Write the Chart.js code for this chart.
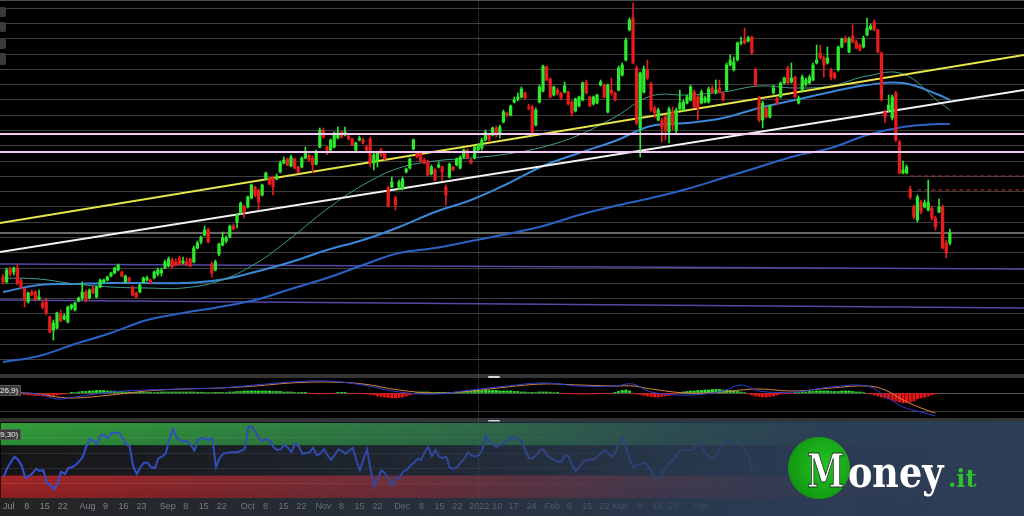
<!DOCTYPE html>
<html><head><meta charset="utf-8">
<script src="https://cdn.jsdelivr.net/npm/chart.js@4.4.1/dist/chart.umd.min.js"></script>
<style>
html,body{margin:0;padding:0;background:#000;width:1024px;height:516px;overflow:hidden;position:relative;font-family:"Liberation Sans",Arial,sans-serif}
canvas{position:absolute;left:0;display:block}
#main{top:0}
#macd{top:378px}
#osc{top:421px}
.abs{position:absolute}
.sep{position:absolute;left:0;width:1024px;background:#343434}
.handle{position:absolute;left:488px;width:12px;height:2px;background:#d6d6d6;border-radius:1px}
.btn{position:absolute;left:0;width:6px;background:#3a3a3a;border-radius:0 2px 2px 0}
.lbl{position:absolute;left:0;height:9px;background:#3a3a3a;border:1px solid #555;border-left:none;color:#eee;font-size:8px;line-height:9px;padding:0 2px 0 0;white-space:nowrap}
#overlay{position:absolute;left:0;top:421px;width:1024px;height:95px;pointer-events:none;
background:linear-gradient(90deg,rgba(44,61,86,0) 0%,rgba(44,61,86,0.22) 20%,rgba(44,61,86,0.5) 45%,rgba(44,61,86,0.82) 65%,rgba(44,61,86,0.97) 80%,rgba(44,61,86,1) 100%)}
#vline{position:absolute;left:478px;top:0;width:0;height:500px;border-left:1px dotted rgba(150,150,150,0.45)}
#circle{position:absolute;left:788px;top:437px;width:62px;height:62px;border-radius:50%;background:radial-gradient(circle at 60% 45%,#27c227 0%,#14a014 60%,#0e870e 100%)}
#logoM{position:absolute;left:807px;top:447px;font-family:"DejaVu Serif",serif;font-weight:bold;font-size:47px;line-height:47px;color:#fff;-webkit-text-stroke:1px #1f3320;transform:scaleX(0.72);transform-origin:left top}
#logoOney{position:absolute;left:848px;top:452px;font-family:"DejaVu Serif",serif;font-weight:bold;font-size:42px;line-height:42px;color:#fff;transform:scaleX(0.87);transform-origin:left top}
#logoIt{position:absolute;left:948px;top:467px;font-family:"DejaVu Serif",serif;font-weight:bold;font-size:24px;line-height:24px;color:#2fbf2f}
</style></head><body>
<canvas id="main" width="1024" height="375"></canvas>
<canvas id="macd" width="1024" height="40"></canvas>
<canvas id="osc" width="1024" height="95"></canvas>
<div class="abs" style="left:0;top:0;width:1024px;height:1px;background:#4a4a4a"></div>
<div class="btn" style="top:7px;height:10px"></div>
<div class="btn" style="top:22px;height:10px"></div>
<div class="btn" style="top:38px;height:11px"></div>
<div class="btn" style="top:53px;height:12px"></div>
<div class="sep" style="top:374px;height:4px"></div>
<div class="handle" style="top:376px"></div>
<div class="sep" style="top:418px;height:4px"></div>
<div class="handle" style="top:420px"></div>
<div id="vline"></div>
<div class="lbl" style="top:385px">26,9)</div>
<div class="lbl" style="top:429px">9,30)</div>
<div id="overlay"></div>
<div id="circle"></div>
<div id="logoM">M</div>
<div id="logoOney">oney</div>
<div id="logoIt">.it</div>
<script>
// ---------- DATA ----------
const opens=[98,93,106,103,107,95,86,73,83,83,76,72,73,58,45,47,61,56,53,67,65,74,77,83,77,87,78,88,93,95,99,102,105,103,93,97,88,82,83,93,95,95,97,101,
102,107,109,115,113,117,112,113,116,113,127,133,140,145,111,105,121,130,134,138,149,153,162,168,168,177,188,185,180,196,197,197,196,203,212,216,209,216,208,208,217,220,217,211,
228,245,228,225,228,237,243,240,239,236,225,235,235,228,236,212,215,225,222,187,188,177,188,186,203,207,226,223,222,215,213,201,205,208,208,188,198,208,210,207,218,225,215,217,225,
227,235,240,240,247,242,253,262,260,273,276,278,282,268,268,250,273,284,308,296,280,285,282,283,283,273,264,269,275,293,278,271,272,290,290,263,285,282,285,300,315,345,357,307,
247,283,305,291,267,255,255,258,243,263,245,266,265,272,275,283,278,272,273,273,287,283,287,282,285,310,305,315,332,335,334,338,305,277,255,267,258,282,277,278,292,307,293,298,
272,285,291,292,295,312,322,317,312,305,302,305,328,337,323,339,333,330,328,340,346,353,345,322,263,265,257,282,233,202,202,186,168,155,173,168,165,167,157,163,168,132,132];
const highs=[101,107,108,108,111,96,87,83,85,84,85,74,77,59,55,63,65,61,69,71,73,78,93,85,86,89,89,96,96,99,103,108,111,104,100,98,89,83,91,98,99,96,104,107,
107,115,118,117,116,119,118,117,117,129,134,139,149,147,113,115,132,143,139,150,151,161,173,170,179,191,189,186,191,203,198,199,201,214,218,217,220,217,209,218,228,221,219,225,
247,247,229,236,243,248,244,248,240,237,233,239,237,230,238,222,223,227,223,189,198,179,195,198,207,217,236,224,223,217,215,210,207,213,209,190,212,209,217,219,226,226,216,229,231,
237,245,242,248,249,250,265,263,270,278,282,288,283,271,270,267,290,310,309,297,289,287,283,293,284,274,277,279,293,295,279,279,281,295,291,291,297,283,309,312,337,357,372,309,
303,309,315,293,269,267,257,260,268,268,267,285,275,280,290,285,280,285,279,288,289,295,295,283,312,320,318,333,338,347,339,339,307,279,274,268,270,290,278,293,298,309,312,299,
279,300,297,300,312,330,330,319,328,307,303,329,337,339,338,350,335,331,339,357,351,355,346,323,265,280,280,284,235,214,210,189,170,180,175,175,195,169,159,176,170,135,146];
const lows=[91,92,99,100,90,86,68,72,79,74,75,66,60,42,35,46,53,55,52,65,64,73,75,73,76,81,77,87,92,94,98,101,104,98,92,93,79,77,82,92,94,91,96,99,
99,106,108,107,109,110,111,109,108,112,126,131,139,132,98,104,119,129,132,137,145,147,161,157,167,176,178,165,179,195,190,180,195,202,211,209,208,206,202,207,216,214,202,210,
227,237,220,224,227,236,237,239,235,229,224,234,231,224,208,205,208,218,215,168,187,165,185,185,202,206,225,217,213,211,199,200,194,207,195,170,197,204,209,206,217,216,211,216,224,
225,234,234,239,238,237,252,258,259,272,274,277,276,265,240,249,272,283,294,277,279,280,275,282,270,259,263,268,274,281,268,270,271,289,277,262,280,274,284,299,314,344,311,250,
218,282,295,263,257,254,233,235,232,245,242,265,264,271,274,267,255,271,272,272,282,281,282,274,284,309,304,314,330,331,333,321,289,253,247,257,257,281,270,277,291,291,292,277,
271,284,289,291,294,311,316,298,311,295,296,304,327,332,322,332,326,324,327,339,345,344,322,274,252,263,255,233,201,201,201,176,156,153,161,167,164,155,145,162,126,117,130];
const closes=[93,105,101,107,92,88,75,82,80,75,78,68,62,43,52,62,54,59,68,70,72,77,83,74,85,82,88,95,95,98,102,107,110,99,99,94,80,78,90,97,97,92,103,105,
105,113,116,108,110,111,114,110,109,127,132,138,145,133,102,113,131,137,137,149,146,160,172,163,178,190,180,173,190,202,191,188,199,212,215,210,218,207,203,217,222,215,210,223,
245,238,222,235,242,242,238,243,236,230,232,237,232,225,212,220,222,220,216,169,193,170,193,196,206,216,235,218,214,212,200,208,195,210,203,180,211,205,216,218,225,217,212,228,230,
235,243,235,247,240,248,263,260,269,275,278,286,277,267,243,265,288,309,295,278,288,282,277,289,271,262,276,278,292,282,269,278,280,293,278,290,282,275,307,310,335,355,312,252,
302,306,297,265,262,265,248,245,266,250,265,272,273,278,288,268,267,283,277,286,283,285,283,275,310,315,313,332,333,332,337,322,290,255,272,258,269,287,272,292,297,292,297,278,
277,298,295,298,310,315,317,310,317,298,297,328,336,333,336,333,327,325,337,347,349,345,323,275,258,270,278,235,202,205,208,178,158,178,163,172,173,157,148,168,127,122,142];

// moving averages sampled at candle indices
const maIdx=[0,10,20,30,40,50,60,70,80,90,100,110,120,130,140,150,160,170,180,190,200,210,220,230,240,250,260,263];
const maShort=[97,96,91,88,87,87,94,111,137,166,190,207,214,217,221,228,240,258,279,280,283,289,287,289,299,301,273,265];
const maMid=[83,90,91,92,92,92,95,103,113,125,135,148,163,175,191,209,222,234,249,252,257,267,275,283,290,292,280,275];
const maLong=[13,19,31,42,55,62,68,75,86,97,110,122,127,134,141,149,160,169,177,186,197,208,219,227,240,248,251,251];

// drawn levels (start value, end value)
const trendYellow=[152,320];
const trendWhite=[123,285];
const levelsPink=[241,223];
const channelLow1=[111,106];
const channelLow2=[75,67];
const levelGray=142;
const stopLevels=[199,185];
const stopStart=[252,254];

// MACD
const macdIdx=[0,10,15,20,30,40,50,60,70,80,90,100,110,120,130,140,150,160,170,175,180,190,200,205,210,220,230,240,245,250,255,259];
const macdLine=[0,-1,-6,-4,1,3,4,5,8,11,12,8,1,-1,3,7,10,7,7,9,1,-2,2,8,2,1,6,7,-3,-14,-19,-23];
const signalLine=[1,-1,-4,-5,-2,2,4,5,7,10,11,9,3,0,2,6,9,8,7,7,4,0,1,3,4,2,5,7,3,-7,-15,-20];
const histVals=[-0.5,-0.5,-0.5,-0.5,-0.5,
-1,-1.5,-2,-2,-2.5,-2.5,-3,-3,-3,-2.5,-2,-1.5,-1,-0.5,
0.3,
0.5,1,1.5,1.5,2,2,2.5,2.5,2.5,2,2,2,1.5,1.5,1,1,0.5,
0.3,0.3,0.3,0.3,0.3,
0.5,0.8,1,1,1,1,1,1,1,1,1,1,0.8,0.8,0.5,0.5,0.5,
0.3,0.3,0.5,0.5,
1,1,1.5,1.5,2,2,2,2,2,2,2,2,1.5,1.5,1.5,1,1,1,0.5,0.5,
0.3,0.3,-0.3,
-0.5,-1,-1,-1,-0.8,-0.5,-0.3,
0.3,0.3,0.3,-0.3,-0.3,-0.5,-0.5,-0.8,
-1,-1.5,-2,-3,-3.5,-4,-4.5,-5,-5,-4.5,-4,-3,-2,-1,
0.5,1,1,1,0.5,
0.3,0.3,0.3,0.3,0.5,0.5,0.5,
1,1.5,1.5,2,2,2.5,2.5,2.5,2.5,2.5,2.5,2,2,2,2,1.5,1.5,1,1,0.5,
0.3,0.5,1,1,1,0.8,0.5,0.3,-0.3,
-0.5,-0.8,-1,-1,-1,-1,-1,-1,-1,-0.8,-0.8,-0.5,-0.5,-0.3,0.3,
1.5,2.5,3,2,
-0.5,-1,
-1.5,-2.5,-3,-3.5,-4,-4,-3.5,-3,-2.5,-1.5,-0.8,
0.5,1,1.5,2,2,2.5,2.5,3,3,3.5,3.5,3.5,3,3,2.5,2,1.5,1,0.5,
-1,-2,-3,-3.5,-4,-4,-3.5,-3,-2,-1,
-0.5,-0.5,-0.3,0.3,
0.5,1,1,1.5,1.5,2,2,2,2,1.5,1.5,1.5,2,2,2,1.5,1,1,0.5,
-0.5,-1,-2,-3,-4,-5,-6,-7,-8,-9,-10,-9.5,-9,-8,-6,-5,-4,-3,-2,-1];

// oscillator (0-100)
const oscVals=[28,40,48,55,51,43,27,29,33,39,36,37,20,17,12,20,35,32,40,41,
44,49,55,69,79,76,72,84,83,80,87,87,87,80,72,69,42,32,41,47,
47,41,40,53,55,59,77,92,81,77,75,76,71,63,77,80,79,77,80,41,
53,59,60,61,61,61,63,65,95,95,88,79,76,79,76,68,64,65,71,67,
61,73,69,59,60,61,67,57,59,65,57,51,57,65,63,59,63,67,51,37,
52,65,37,16,27,37,33,24,17,27,27,35,37,43,47,52,51,61,68,56,
64,55,53,55,40,39,41,47,52,61,57,55,57,64,83,75,72,68,71,73,
77,81,80,79,75,64,53,53,57,64,65,57,53,51,48,49,57,56,44,36,
41,48,51,51,51,55,60,64,60,55,60,73,81,67,51,41,44,45,47,43,
36,29,27,33,40,47,51,56,64,64,64,64,67,71,69,61,55,51,57,64,
71,75,76,79,80,72,64,57,37];
const oscUpper=70, oscLower=30;

// time axis
const tickIdx=[1.4,6.4,11.4,16.4,23.3,28.3,33.3,38.3,45.6,50.6,55.6,60.6,67.8,72.8,77.8,82.8,88.9,93.9,98.9,103.9,110.8,116.1,121.1,126.1,132.2,137.2,141.7,146.7,152.5,157.2,162.2,166.9,171.4,176.7,181.7,186.1,193.6];
const tickLabels=['Jul','8','15','22','Aug','9','16','23','Sep','8','15','22','Oct','8','15','22','Nov','8','15','22','Dec','8','15','22','2022','10','17','24','Feb','8','15','22','Mar','8','16','22','Apr'];

const X_MIN=-0.83, X_MAX=283.6;
// ---------- CHARTS ----------
const GREEN='#2de82d', RED='#e81c1c';
const up=closes.map((c,i)=>c>=opens[i]);
const candleColors=up.map(u=>u?GREEN:RED);
const bodies=opens.map((o,i)=>({x:i,y:[Math.min(o,closes[i]),Math.max(o,closes[i])]}));
const wicks=opens.map((o,i)=>({x:i,y:[lows[i],highs[i]]}));
const pts=(idx,vals)=>idx.map((x,k)=>({x:x,y:vals[k]}));
const seg=(a,b)=>[{x:X_MIN,y:a},{x:X_MAX,y:b}];
const lineDS=(data,color,w,extra)=>Object.assign({type:'line',data:data,borderColor:color,borderWidth:w,pointRadius:0,fill:false,tension:0},extra||{});
const zeroW=s=>{s.width=0;};
const xScale={type:'linear',min:X_MIN,max:X_MAX,display:false,offset:false,grid:{offset:false}};
const common={responsive:false,animation:false,devicePixelRatio:1,events:[],
  plugins:{legend:{display:false},tooltip:{enabled:false}},layout:{padding:0}};

new Chart(document.getElementById('main'),{
  type:'bar',
  data:{datasets:[
    lineDS(seg(levelsPink[0],levelsPink[0]),'#f3c8f3',2),
    lineDS(seg(levelsPink[1],levelsPink[1]),'#f3c8f3',2),
    {type:'bar',data:bodies,backgroundColor:candleColors,barThickness:2.6,grouped:false,minBarLength:1,borderWidth:0},
    {type:'bar',data:wicks,backgroundColor:candleColors,barThickness:1,grouped:false,borderWidth:0},
    lineDS(seg(trendYellow[0],trendYellow[1]),'#e6e64a',2),
    lineDS(seg(trendWhite[0],trendWhite[1]),'#f2f2f2',2),
    lineDS(pts(maIdx,maShort),'#3f9c90',1,{tension:0.4}),
    lineDS(pts(maIdx,maMid),'#3b88d8',2,{tension:0.4}),
    lineDS(pts(maIdx,maLong),'#2b62c6',2,{tension:0.4}),
    lineDS([{x:stopStart[0],y:stopLevels[0]},{x:X_MAX,y:stopLevels[0]}],'#b83232',1,{borderDash:[4,3]}),
    lineDS([{x:stopStart[1],y:stopLevels[1]},{x:X_MAX,y:stopLevels[1]}],'#b83232',1,{borderDash:[4,3]}),
    lineDS(seg(levelGray,levelGray),'#8c8c8c',1.5),
    lineDS(seg(channelLow1[0],channelLow1[1]),'#5548a6',1.5),
    lineDS(seg(channelLow2[0],channelLow2[1]),'#5548a6',1.5)
  ]},
  options:Object.assign({},common,{scales:{
    x:xScale,
    y:{min:0,max:375,afterFit:zeroW,ticks:{display:false},border:{display:false},
       grid:{color:'#3d3d3d',drawTicks:false},
       afterBuildTicks:s=>{const t=[];for(let k=0;k<=24;k++)t.push({value:k*15.28});s.ticks=t;}}
  }})
});

new Chart(document.getElementById('macd'),{
  type:'bar',
  data:{datasets:[
    lineDS(pts(macdIdx,macdLine),'#2c3fd0',1,{tension:0.4}),
    lineDS(pts(macdIdx,signalLine),'#d9843e',1,{tension:0.4}),
    {type:'bar',data:histVals.map((v,i)=>({x:i,y:v})),backgroundColor:histVals.map(v=>v>=0?'#2fe82f':'#e81414'),barThickness:2.4,grouped:false,borderWidth:0}
  ]},
  options:Object.assign({},common,{scales:{
    x:xScale,
    y:{min:-25,max:15,afterFit:zeroW,ticks:{display:false},border:{display:false},
       grid:{color:ctx=>ctx.tick.value===0?'#555':'#3a3a3a',drawTicks:false},
       afterBuildTicks:s=>{s.ticks=[{value:-18},{value:0}];}}
  }})
});

const bandPlugin={id:'bands',beforeDraw(chart){
  const {ctx,chartArea:a,scales:{y}}=chart;
  const yTop=y.getPixelForValue(100), yUp=y.getPixelForValue(oscUpper), yLo=y.getPixelForValue(oscLower), yBot=y.getPixelForValue(0);
  ctx.save();
  let g=ctx.createLinearGradient(0,yTop,0,yUp);g.addColorStop(0,'#34a03a');g.addColorStop(1,'#2a8c32');
  ctx.fillStyle=g;ctx.fillRect(a.left,yTop,a.right-a.left,yUp-yTop);
  ctx.fillStyle='#161616';ctx.fillRect(a.left,yUp,a.right-a.left,yLo-yUp);
  g=ctx.createLinearGradient(0,yLo,0,yBot);g.addColorStop(0,'#a52626');g.addColorStop(1,'#8e1e1e');
  ctx.fillStyle=g;ctx.fillRect(a.left,yLo,a.right-a.left,yBot-yLo);
  ctx.fillStyle='#242424';ctx.fillRect(0,yBot,chart.width,chart.height-yBot);
  ctx.restore();
}};

new Chart(document.getElementById('osc'),{
  type:'line',
  data:{datasets:[
    lineDS(oscVals.map((v,i)=>({x:i,y:v})),'#3551d8',2)
  ]},
  plugins:[bandPlugin],
  options:Object.assign({},common,{layout:{padding:{top:2,left:0,right:0,bottom:0}},scales:{
    x:{type:'linear',min:X_MIN,max:X_MAX,offset:false,afterFit:s=>{s.height=18;},border:{display:false},grid:{display:false,drawTicks:false},
       ticks:{autoSkip:false,maxRotation:0,minRotation:0,padding:3,color:'#8a8a8a',font:{size:9,family:'"Liberation Sans",Arial'},
              callback:(v,i)=>tickLabels[i]},
       afterBuildTicks:s=>{s.ticks=tickIdx.map(v=>({value:v}));}},
    y:{min:0,max:100,afterFit:zeroW,ticks:{display:false},border:{display:false},
       grid:{color:'rgba(255,255,255,0.1)',drawTicks:false},
       afterBuildTicks:s=>{s.ticks=[{value:20},{value:40},{value:60},{value:80}];}}
  }})
});
</script>
</body></html>
